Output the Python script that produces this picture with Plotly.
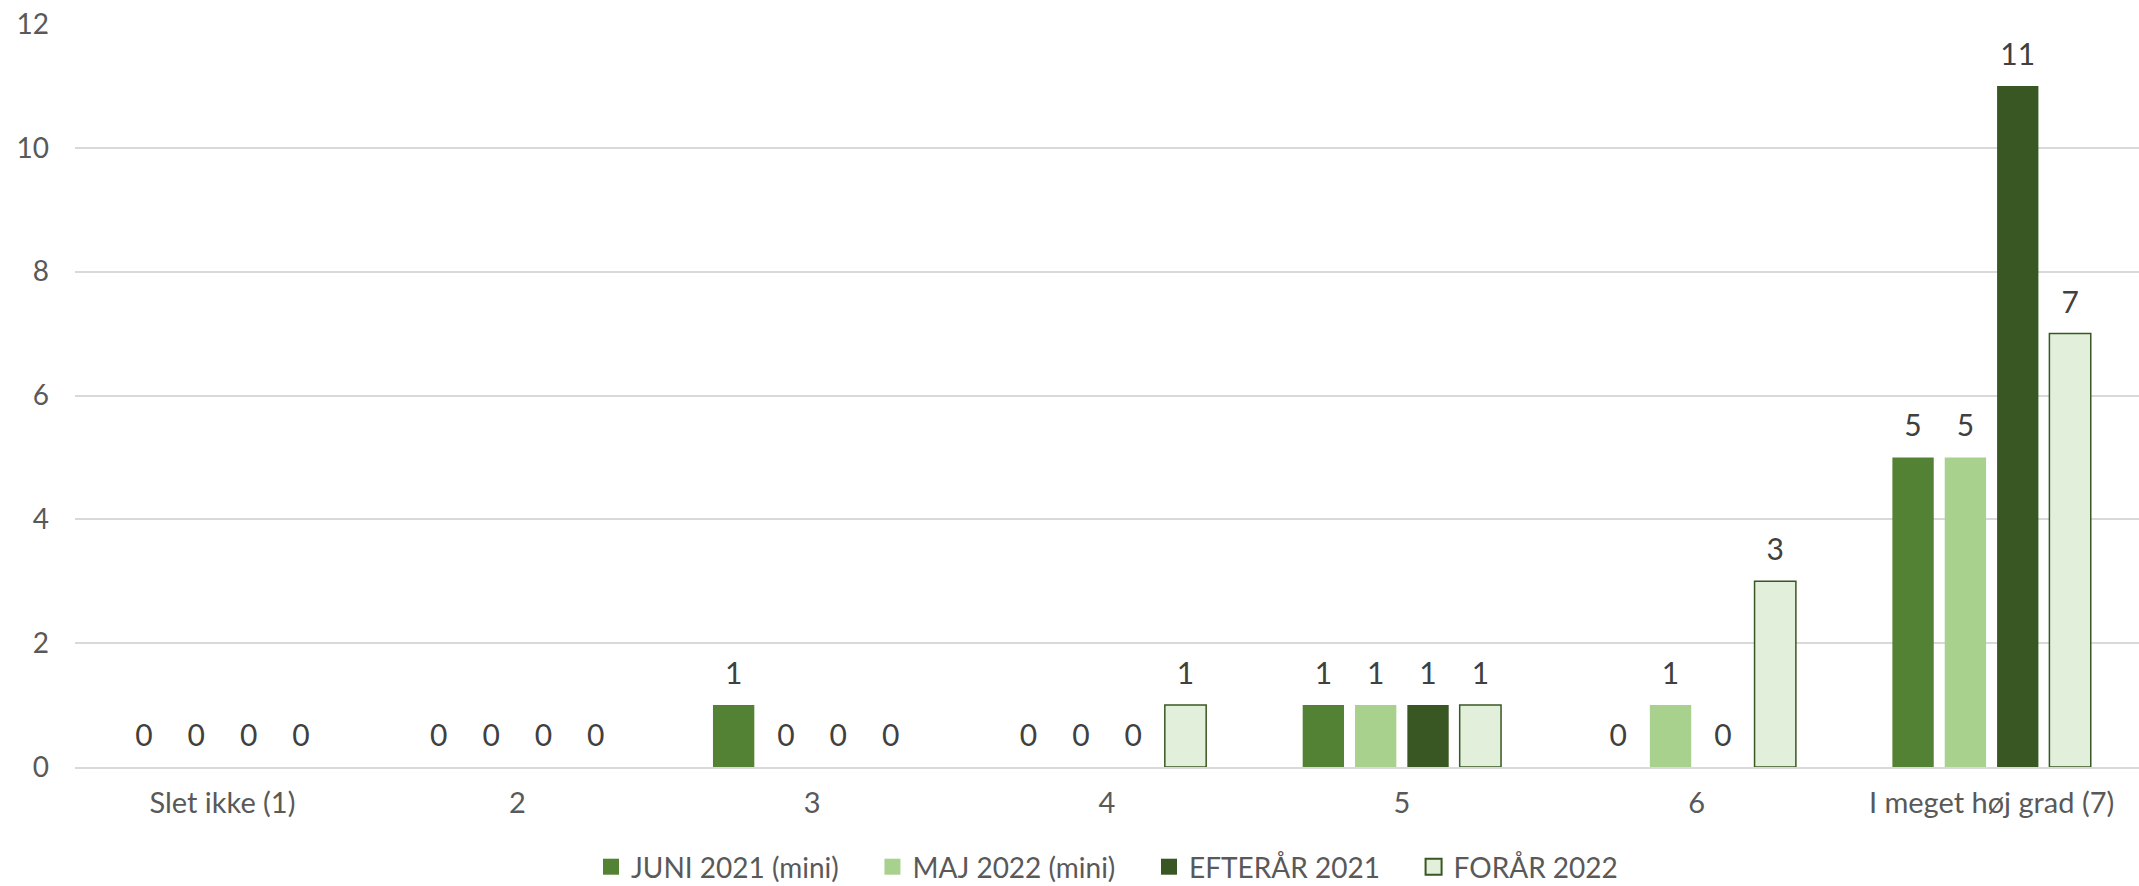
import plotly.graph_objects as go

categories = ["Slet ikke (1)", "2", "3", "4", "5", "6", "I meget høj grad (7)"]
series_names = ["JUNI 2021 (mini)", "MAJ 2022 (mini)", "EFTERÅR 2021", "FORÅR 2022"]
juni_2021 = [0, 0, 1, 0, 1, 0, 5]
maj_2022 = [0, 0, 0, 0, 1, 1, 5]
efteraar_2021 = [0, 0, 0, 0, 1, 0, 11]
foraar_2022 = [0, 0, 0, 1, 1, 3, 7]
y_ticks = [0, 2, 4, 6, 8, 10, 12]

fills = ["#548235", "#A9D18E", "#385723", "#E2EFDA"]
lines = ["#548235", "#A9D18E", "#385723", "#385723"]
widths = [0, 0, 0, 1.5]

FONT = "Lato, Open Sans, sans-serif"
PAD = "\u00a0" * 4

fig = go.Figure()
all_series = [juni_2021, maj_2022, efteraar_2021, foraar_2022]
for i, (name, vals, fc, lc, lw) in enumerate(zip(series_names, all_series, fills, lines, widths)):
    fig.add_trace(go.Bar(
        x=categories, y=[v if v > 0 else None for v in vals], name=name, offsetgroup=str(i),
        marker=dict(color=fc, line=dict(color=lc, width=lw)),
        hovertemplate=name + ": %{y}<extra></extra>", showlegend=False,
    ))
for i, vals in enumerate(all_series):
    fig.add_trace(go.Scatter(
        x=categories, y=vals, mode="markers+text", offsetgroup=str(i),
        text=[str(v) for v in vals], textposition="top center",
        textfont=dict(family=FONT, size=30, color="#404040"),
        marker=dict(size=20, opacity=0), showlegend=False, hoverinfo="skip",
        cliponaxis=False,
    ))
# legend entries with square swatches
for i, (name, fc, lc, lw) in enumerate(zip(series_names, fills, lines, widths)):
    label = name + (PAD if i < len(series_names) - 1 else "")
    fig.add_trace(go.Scatter(
        x=[None], y=[None], mode="markers", name=label,
        marker=dict(symbol="square", size=16, color=fc, line=dict(color=lc, width=2 if lw else 0)),
    ))

fig.update_layout(
    width=2139, height=886,
    barmode="group", bargap=0.29, bargroupgap=0.21,
    scattermode="group", scattergap=0.29,
    plot_bgcolor="white", paper_bgcolor="white",
    margin=dict(l=75, r=0, t=24, b=119, autoexpand=False),
    font=dict(family=FONT, size=29, color="#595959"),
    xaxis=dict(showgrid=False, showline=True, linecolor="#D9D9D9", linewidth=1.5,
               ticks="", ticklabelstandoff=9, tickfont=dict(family=FONT, size=29, color="#595959")),
    yaxis=dict(range=[0, 12], tickvals=y_ticks, showgrid=True, gridcolor="#D9D9D9", gridwidth=1.5,
               zeroline=False, ticks="", ticklabelstandoff=25,
               tickfont=dict(family=FONT, size=28, color="#595959")),
    legend=dict(orientation="h", x=0.5, xanchor="center", y=-0.1346, yanchor="middle",
                font=dict(family=FONT, size=28, color="#595959"),
                itemwidth=30, traceorder="normal"),
)

fig.write_html("out.html", config={"displayModeBar": False},
               post_script="document.body.style.margin='0';document.body.style.overflow='hidden';")
